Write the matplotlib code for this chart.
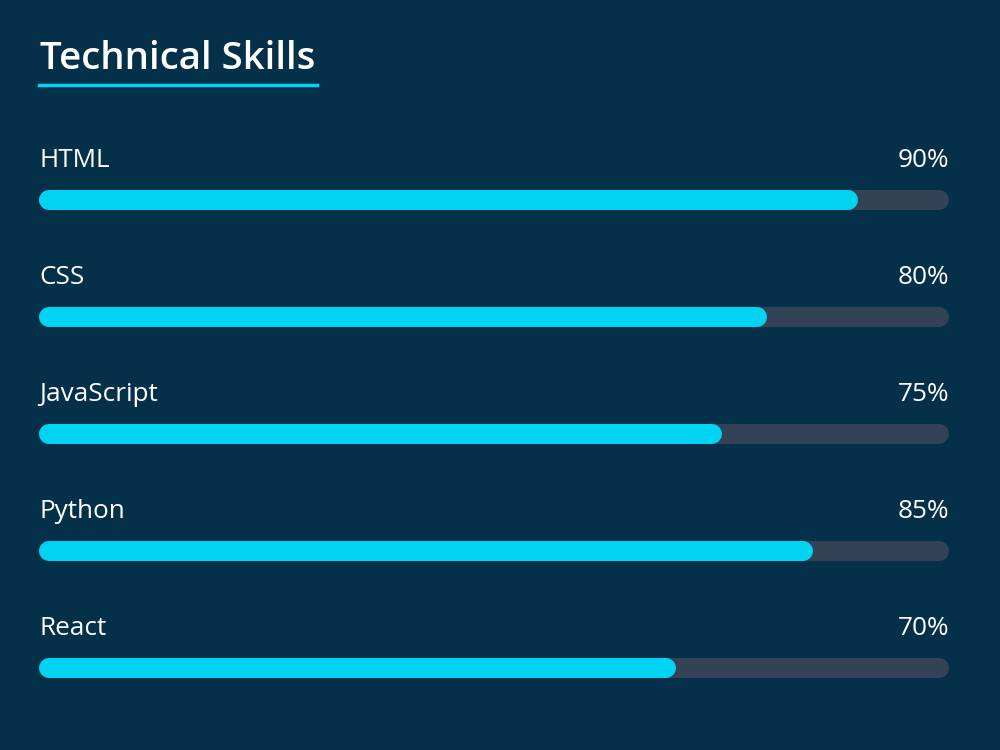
import matplotlib
matplotlib.use("Agg")
import matplotlib.pyplot as plt
from matplotlib.lines import Line2D

skills = ["HTML", "CSS", "JavaScript", "Python", "React"]
levels = [90, 80, 75, 85, 70]
title = "Technical Skills"

BG = "#05304a"
FILL = "#00d4f2"
TRACK = "#334257"

plt.rcParams["font.family"] = ["Open Sans", "DejaVu Sans"]

fig = plt.figure(figsize=(10, 7.5), dpi=100, facecolor=BG)
ax = fig.add_axes([0.039, 0.0313, 0.91, 0.78])
ax.set_facecolor(BG)
ax.set_xlim(0, 100)
ax.set_ylim(len(skills) - 0.5, -0.5)
ax.axis("off")

bar_px = 20
lw_pt = bar_px * 72 / fig.dpi
# half bar height in data units along x, so round caps end at the right spot
r = (bar_px / 2) / (fig.get_figwidth() * fig.dpi * 0.91) * 100

for i, (name, val) in enumerate(zip(skills, levels)):
    ax.plot([r, 100 - r], [i, i], color=TRACK, lw=lw_pt, solid_capstyle="round")
    ax.plot([r, val - r], [i, i], color=FILL, lw=lw_pt, solid_capstyle="round")
    ax.text(0, i - 0.285, name, color="white", fontsize=18.8, va="baseline", ha="left")
    ax.text(100, i - 0.285, f"{val}%", color="white", fontsize=18.8, va="baseline", ha="right")

t = fig.text(0.04, 0.908, title, color="white", fontsize=27.6, fontweight="semibold", va="baseline", ha="left")
fig.canvas.draw()
bb = t.get_window_extent().transformed(fig.transFigure.inverted())
fig.add_artist(Line2D([0.039, bb.x1 + 0.002], [0.887, 0.887], color=FILL, lw=2.5, transform=fig.transFigure))

fig.savefig("out.png", dpi=100, facecolor=BG)
